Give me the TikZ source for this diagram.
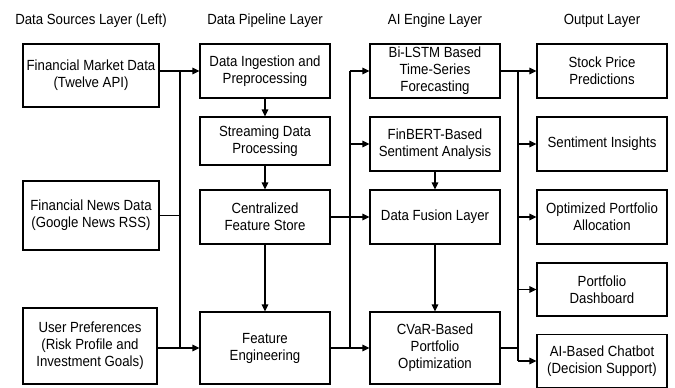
\documentclass[tikz,border=0pt]{standalone}
\usepackage{fontspec}
\setmainfont{Liberation Sans}[FakeStretch=0.9]
\usetikzlibrary{arrows.meta}

\begin{document}
\begin{tikzpicture}[x=1pt,y=-1pt,
  box/.style={draw,line width=1.1pt,align=center,inner sep=1pt,font=\fontsize{14.7}{17}\selectfont},
  head/.style={font=\fontsize{14.7}{17}\selectfont},
  arr/.style={line width=1.1pt,-{Triangle[length=7pt,width=6.5pt]}},
  ln/.style={line width=1.1pt}]
  \useasboundingbox (0,0) rectangle (675,388);

\node [head] (h1) at (91,21) {Data Sources Layer (Left)};
\node [head] (h2) at (265,21) {Data Pipeline Layer};
\node [head] (h3) at (435,21) {AI Engine Layer};
\node [head] (h4) at (602,21) {Output Layer};

\node [box,minimum width=136pt,minimum height=63pt] (fmd) at (91,75.5) {Financial Market Data\\(Twelve API)};
\node [box,minimum width=136pt,minimum height=69pt] (fnd) at (91,215.5) {Financial News Data\\(Google News RSS)};
\node [box,minimum width=134pt,minimum height=76pt] (usr) at (90,346) {User Preferences\\(Risk Profile and\\Investment Goals)};

\node [box,minimum width=130pt,minimum height=54pt] (ing) at (265,71) {Data Ingestion and\\Preprocessing};
\node [box,minimum width=130pt,minimum height=48pt] (str) at (265,141) {Streaming Data\\Processing};
\node [box,minimum width=130pt,minimum height=54pt] (cfs) at (265,217) {Centralized\\Feature Store};
\node [box,minimum width=130pt,minimum height=72pt] (fe) at (265,348) {Feature\\Engineering};

\node [box,minimum width=130pt,minimum height=54pt] (bil) at (435,71) {Bi-LSTM Based\\Time-Series\\Forecasting};
\node [box,minimum width=130pt,minimum height=54pt] (fin) at (435,144) {FinBERT-Based\\Sentiment Analysis};
\node [box,minimum width=130pt,minimum height=54pt] (dfl) at (435,217) {Data Fusion Layer};
\node [box,minimum width=130pt,minimum height=72pt] (cvr) at (435,348) {CVaR-Based\\Portfolio\\Optimization};

\node [box,minimum width=130pt,minimum height=54pt] (spp) at (602,71) {Stock Price\\Predictions};
\node [box,minimum width=130pt,minimum height=54pt] (sen) at (602,144) {Sentiment Insights};
\node [box,minimum width=130pt,minimum height=54pt] (opt) at (602,217) {Optimized Portfolio\\Allocation};
\node [box,minimum width=130pt,minimum height=53pt] (dsh) at (602,289.5) {Portfolio\\Dashboard};
\node [box,minimum width=130pt,minimum height=53pt] (bot) at (602,361) {AI-Based Chatbot\\(Decision Support)};

\coordinate (b1) at (180,0);
\coordinate (b2) at (350,0);
\coordinate (b3) at (518,0);

\draw[ln] (b1 |- ing) -- (b1 |- fe);
\draw[arr] (fmd.east |- ing) -- (ing.west);
\draw[ln] (fnd.east) -- (b1 |- fnd.east);
\draw[arr] (usr.east |- fe) -- (fe.west);

\draw[arr] (ing) -- (str);
\draw[arr] (str) -- (cfs);
\draw[arr] (cfs) -- (fe);

\draw[ln] (b2 |- bil) -- (b2 |- cvr);
\draw[arr] (b2 |- bil) -- (bil.west);
\draw[arr] (b2 |- fin) -- (fin.west);
\draw[arr] (cfs) -- (dfl);
\draw[arr] (fe) -- (cvr);
\draw[arr] (fin) -- (dfl);
\draw[arr] (dfl) -- (cvr);

\draw[ln] (b3 |- bil) -- (b3 |- bot);
\draw[arr] (bil) -- (spp);
\draw[arr] (b3 |- sen) -- (sen.west);
\draw[arr] (b3 |- opt) -- (opt.west);
\draw[arr] (b3 |- dsh) -- (dsh.west);
\draw[arr] (b3 |- bot) -- (bot.west);
\draw[ln] (cvr.east) -- (b3 |- cvr);

\end{tikzpicture}
\end{document}
